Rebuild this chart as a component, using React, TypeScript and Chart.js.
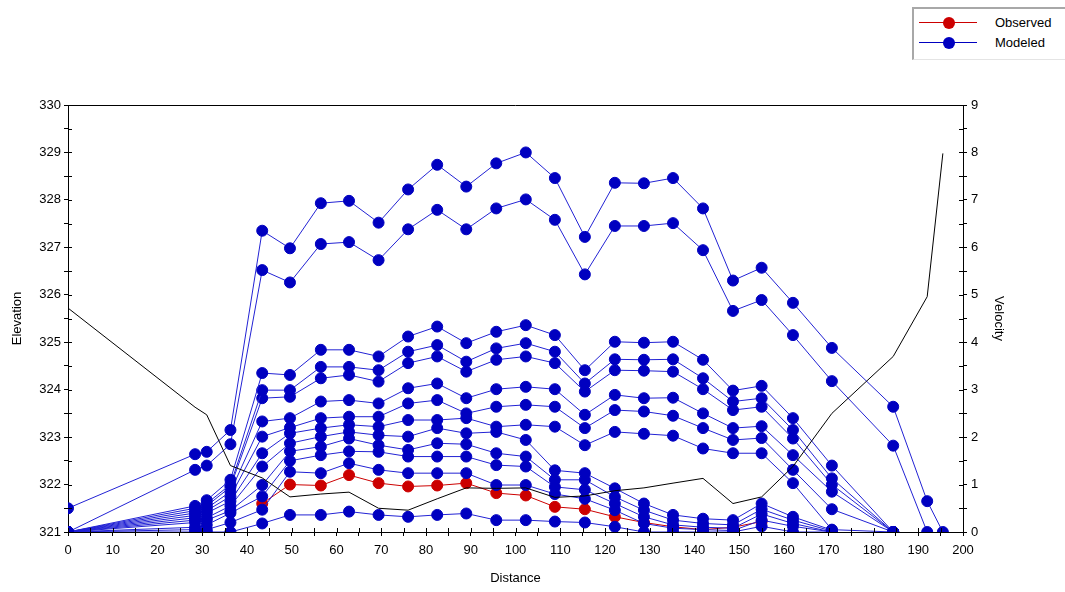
import React, { useEffect, useRef } from "react";
import { Chart, registerables } from "chart.js";
Chart.register(...registerables);

const distances = [0, 28.4, 31, 36.3, 43.4, 49.6, 56.5, 62.8, 69.4, 76, 82.5, 89, 95.7, 102.3, 108.8, 115.5, 122.2, 128.7, 135.2, 141.9, 148.6, 155, 162, 170.7, 184.4, 192, 195.5];

const velocity = [4.72, 2.63, 2.47, 1.4, 1.14, 0.74, 0.8, 0.84, 0.5, 0.46, 0.7, 0.93, 0.92, 0.93, 0.73, 0.76, 0.87, 0.93, 1.03, 1.13, 0.6, 0.74, 1.38, 2.5, 3.7, 4.96, 7.98];

const observed = [null, null, null, null, 321.6, 322.0, 321.98, 322.2, 322.03, 321.96, 321.98, 322.03, 321.82, 321.77, 321.53, 321.48, 321.32, 321.2, 321.11, 321.05, 321.1, 321.22, null, null, null, null, null];

const modeledT1 = [321.5, 322.64, 322.69, 323.15, 327.35, 326.98, 327.93, 327.98, 327.52, 328.22, 328.74, 328.28, 328.77, 329.0, 328.46, 327.22, 328.36, 328.35, 328.46, 327.82, 326.3, 326.57, 325.83, 324.88, 323.64, 321.65, 321.0];
const modeledT2 = [321.0, 322.31, 322.4, 322.85, 326.52, 326.26, 327.07, 327.11, 326.73, 327.38, 327.79, 327.38, 327.82, 328.01, 327.58, 326.43, 327.45, 327.45, 327.51, 326.94, 325.66, 325.89, 325.15, 324.18, 322.82, 321.0, null];
const modeledC = [321, 321.55, 321.67, 322.1, 324.35, 324.31, 324.84, 324.84, 324.7, 325.12, 325.33, 324.98, 325.22, 325.36, 325.15, 324.41, 325.01, 324.99, 325.01, 324.63, 323.98, 324.08, 323.4, 322.4, 321, null, null];
const modeledD = [321, 321.5, 321.6, 322.0, 323.99, 323.99, 324.48, 324.48, 324.41, 324.8, 324.94, 324.59, 324.87, 324.98, 324.8, 324.13, 324.64, 324.63, 324.64, 324.24, 323.75, 323.82, 323.15, 322.13, 321, null, null];
const modeledE = [321, 321.45, 321.55, 321.95, 323.82, 323.85, 324.24, 324.31, 324.17, 324.56, 324.7, 324.38, 324.63, 324.7, 324.56, 323.96, 324.41, 324.4, 324.38, 324.01, 323.57, 323.64, 322.97, 322.0, 321, null, null];
const modeledF = [321, 321.4, 321.5, 321.85, 323.33, 323.4, 323.75, 323.78, 323.71, 324.03, 324.13, 323.82, 324.01, 324.06, 324.01, 323.47, 323.89, 323.82, 323.83, 323.5, 323.19, 323.23, 322.62, 321.85, 321, null, null];
const modeledG = [321, 321.35, 321.45, 321.75, 323.01, 323.2, 323.4, 323.43, 323.43, 323.71, 323.78, 323.5, 323.64, 323.68, 323.64, 323.19, 323.57, 323.54, 323.45, 323.19, 322.94, 322.98, 322.31, 321.48, 321, null, null];
const modeledH = [321, 321.3, 321.4, 321.65, 322.66, 323.08, 323.19, 323.26, 323.22, 323.36, 323.36, 323.4, 323.22, 323.26, 323.22, 322.83, 323.11, 323.07, 323.03, 322.76, 322.66, 322.66, 322.03, 321.05, 321, null, null];
const modeledI = [321, 321.25, 321.3, 321.55, 322.38, 322.87, 323.01, 323.11, 323.04, 323.01, 323.19, 323.08, 323.11, 322.94, 322.3, 322.24, 321.92, 321.6, 321.36, 321.28, 321.25, 321.6, 321.32, 321.04, null, null, null];
const modeledJ = [321, 321.2, 321.25, 321.45, 321.99, 322.7, 322.8, 322.97, 322.83, 322.73, 322.87, 322.85, 322.66, 322.59, 322.1, 322.1, 321.74, 321.46, 321.25, 321.18, 321.15, 321.48, 321.25, 321.02, null, null, null];
const modeledK = [321, 321.1, 321.15, 321.4, 321.75, 322.5, 322.62, 322.7, 322.69, 322.59, 322.59, 322.59, 322.41, 322.38, 321.95, 321.89, 321.6, 321.32, 321.15, 321.1, 321.08, 321.38, 321.18, 321.0, null, null, null];
const modeledL = [321, 321.05, 321.05, 321.2, 321.47, 322.27, 322.24, 322.45, 322.31, 322.24, 322.24, 322.24, 321.99, 321.99, 321.8, 321.7, 321.46, 321.18, 321.08, 321.05, 321.03, 321.25, 321.12, 321.0, null, null, null];
const modeledM = [321, 321, 321, 321, 321.18, 321.36, 321.36, 321.43, 321.36, 321.32, 321.36, 321.39, 321.25, 321.25, 321.22, 321.2, 321.11, 321.0, 321.0, 321.0, 321.0, 321.12, 321.0, 321.0, null, null, null];

const modeledSeries = [modeledT1, modeledT2, modeledC, modeledD, modeledE, modeledF, modeledG, modeledH, modeledI, modeledJ, modeledK, modeledL, modeledM];

const FONT = "'Liberation Sans', Arial, sans-serif";
const BLUE_LINE = "#2222d4";
const BLUE_PT = "#0000c0";
const RED = "#cc0000";

function toPoints(vals: (number | null)[]) {
  const pts: { x: number; y: number }[] = [];
  vals.forEach((v, i) => {
    if (v !== null) pts.push({ x: distances[i], y: v });
  });
  return pts;
}

const innerTicks = {
  id: "innerTicks",
  afterDraw(chart: any) {
    const { ctx, chartArea } = chart;
    const x = chart.scales.x;
    const y = chart.scales.y;
    const y1 = chart.scales.y1;
    ctx.save();
    ctx.strokeStyle = "#000";
    ctx.lineWidth = 1;
    ctx.beginPath();
    ctx.moveTo(chartArea.left, Math.round(chartArea.top) + 0.5);
    ctx.lineTo(chartArea.right, Math.round(chartArea.top) + 0.5);
    for (let v = 0; v <= 200; v += 5) {
      const px = Math.round(x.getPixelForValue(v)) + 0.5;
      ctx.moveTo(px, chartArea.bottom);
      ctx.lineTo(px, chartArea.bottom - 4);
    }
    for (let v = 321; v <= 330; v += 0.5) {
      const py = Math.round(y.getPixelForValue(v)) + 0.5;
      ctx.moveTo(chartArea.left, py);
      ctx.lineTo(chartArea.left + 4, py);
    }
    for (let v = 0; v <= 9; v += 0.5) {
      const py = Math.round(y1.getPixelForValue(v)) + 0.5;
      ctx.moveTo(chartArea.right, py);
      ctx.lineTo(chartArea.right - 4, py);
    }
    ctx.stroke();
    ctx.restore();
  },
};

export default function App() {
  const ref = useRef<HTMLCanvasElement | null>(null);
  useEffect(() => {
    document.body.style.margin = "0";
    if (!ref.current) return;
    const datasets: any[] = [
      {
        label: "Velocity",
        data: toPoints(velocity),
        yAxisID: "y1",
        borderColor: "#000",
        borderWidth: 1,
        pointRadius: 0,
        fill: false,
      },
      ...modeledSeries.map((s) => ({
        label: "Modeled",
        data: toPoints(s),
        yAxisID: "y",
        borderColor: BLUE_LINE,
        backgroundColor: BLUE_PT,
        pointBackgroundColor: BLUE_PT,
        pointBorderColor: BLUE_PT,
        borderWidth: 1,
        pointRadius: 5.5,
        pointHoverRadius: 5.5,
      })),
      {
        label: "Observed",
        data: toPoints(observed),
        yAxisID: "y",
        borderColor: RED,
        backgroundColor: RED,
        pointBackgroundColor: RED,
        pointBorderColor: RED,
        borderWidth: 1,
        pointRadius: 5.5,
        pointHoverRadius: 5.5,
      },
    ];
    const tickFont = { family: FONT, size: 13 };
    const chart = new Chart(ref.current, {
      type: "line",
      data: { datasets },
      plugins: [innerTicks],
      options: {
        animation: false,
        responsive: true,
        maintainAspectRatio: false,
        layout: { padding: { top: 105, left: 0, right: 0, bottom: 0 } },
        plugins: { legend: { display: false }, tooltip: { enabled: false } },
        elements: { line: { tension: 0 } },
        scales: {
          x: {
            type: "linear",
            min: 0,
            max: 200,
            afterFit: (s: any) => { s.height = 60; },
            grid: { drawOnChartArea: false, drawTicks: true, tickLength: 4, color: "#000" },
            border: { display: true, color: "#000", width: 1 },
            ticks: {
              stepSize: 5,
              autoSkip: false,
              maxRotation: 0,
              color: "#000",
              font: tickFont,
              padding: 7,
              callback: (v: any) => (Number(v) % 10 === 0 ? String(v) : ""),
            },
            title: { display: true, text: "Distance", color: "#000", font: tickFont, padding: { top: 0, bottom: 6 } },
          },
          y: {
            type: "linear",
            position: "left",
            min: 321,
            max: 330,
            afterFit: (s: any) => { s.width = 68; },
            grid: { drawOnChartArea: false, drawTicks: true, tickLength: 4, color: "#000" },
            border: { display: true, color: "#000", width: 1 },
            ticks: {
              stepSize: 0.5,
              autoSkip: false,
              color: "#000",
              font: tickFont,
              padding: 3,
              callback: (v: any) => (Number.isInteger(Number(v)) ? String(v) : ""),
            },
            title: { display: true, text: "Elevation", color: "#000", font: tickFont, padding: { top: 10, bottom: 0 } },
          },
          y1: {
            type: "linear",
            position: "right",
            min: 0,
            max: 9,
            afterFit: (s: any) => { s.width = 102; },
            grid: { drawOnChartArea: false, drawTicks: true, tickLength: 4, color: "#000" },
            border: { display: true, color: "#000", width: 1 },
            ticks: {
              stepSize: 0.5,
              autoSkip: false,
              color: "#000",
              font: tickFont,
              padding: 4,
              callback: (v: any) => (Number.isInteger(Number(v)) ? String(v) : ""),
            },
            title: { display: true, text: "Velocity", color: "#000", font: tickFont, padding: { top: 59, bottom: 0 } },
          },
        },
      } as any,
    });
    return () => chart.destroy();
  }, []);

  const legendRow = (color: string, text: string, top: number) => (
    <div style={{ position: "absolute", left: 0, top, width: 160, height: 16 }}>
      <div style={{ position: "absolute", left: 5, top: 7, width: 58, height: 1, background: color }} />
      <div style={{ position: "absolute", left: 29, top: 2, width: 12, height: 12, borderRadius: "50%", background: color }} />
      <div style={{ position: "absolute", left: 81, top: 0, fontFamily: FONT, fontSize: 13, lineHeight: "16px", color: "#000" }}>{text}</div>
    </div>
  );

  return (
    <div style={{ position: "relative", width: 1065, height: 592, background: "#fff", overflow: "hidden" }}>
      <canvas ref={ref} />
      <div
        style={{
          position: "absolute",
          left: 912,
          top: 7,
          width: 160,
          height: 50,
          borderLeft: "2px solid #a8a8a8",
          borderTop: "2px solid #a8a8a8",
          borderBottom: "1px solid #e4e4e4",
          background: "#fff",
        }}
      >
        {legendRow(RED, "Observed", 6)}
        {legendRow(BLUE_PT, "Modeled", 26)}
      </div>
    </div>
  );
}
